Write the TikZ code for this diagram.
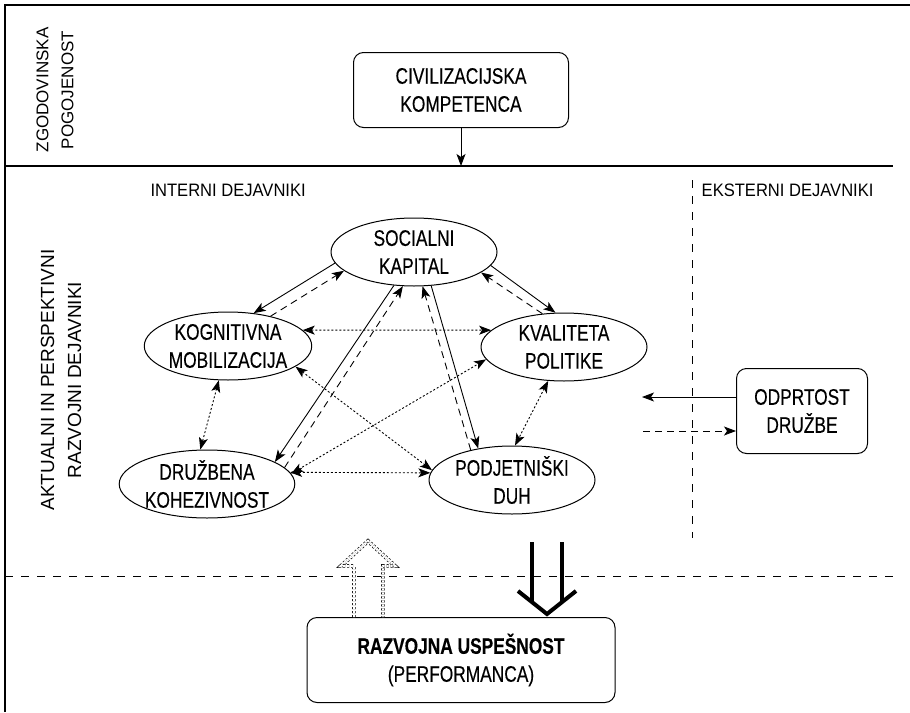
\documentclass[tikz,border=0pt]{standalone}
\usepackage{fontspec}
\setmainfont{Liberation Sans}
\newfontfamily\condfont[FakeStretch=0.77, FakeBold=0.3]{Liberation Sans}
\newfontfamily\midfont[FakeStretch=0.92]{Liberation Sans}
\usetikzlibrary{arrows.meta, shapes.geometric}

\begin{document}
\begin{tikzpicture}[x=1pt, y=-1pt,
    factor/.style={ellipse, draw, line width=1pt, minimum width=166pt,
                   minimum height=68pt, inner sep=0pt, align=center,
                   font=\condfont\fontsize{22.5}{28}\selectfont},
    panel/.style={draw, rounded corners=10pt, line width=1pt, align=center,
                  font=\condfont\fontsize{22.5}{28}\selectfont},
    dashline/.style={dash pattern=on 7pt off 5pt},
    dotline/.style={dash pattern=on 2pt off 2pt},
    sepline/.style={line width=1pt, dash pattern=on 8pt off 8pt}]
\useasboundingbox (0,0) rectangle (910,712);
\draw[line width=1.2pt] (5,712) -- (5,5) -- (910,5);
\draw[line width=1.2pt] (5,166) coordinate (sepl) -- (893,166) coordinate (sepr);

\node[rotate=90, align=center, font=\fontsize{17}{25}\selectfont] (zgo) at (55,90) {ZGODOVINSKA\\POGOJENOST};
\node[rotate=90, align=center, font=\fontsize{19}{27}\selectfont] (akt) at (61,380) {AKTUALNI IN PERSPEKTIVNI\\RAZVOJNI DEJAVNIKI};
\node[anchor=west, font=\midfont\fontsize{18}{22}\selectfont] (int) at (147,190) {INTERNI DEJAVNIKI};
\node[anchor=east, font=\midfont\fontsize{18}{22}\selectfont] (eks) at (877,190) {EKSTERNI DEJAVNIKI};

\node[panel, minimum width=215pt, minimum height=75pt] (civ) at (461,90) {CIVILIZACIJSKA\\KOMPETENCA};
\node[factor] (sk) at (414,252) {SOCIALNI\\KAPITAL};
\node[factor] (km) at (228,346) {KOGNITIVNA\\MOBILIZACIJA};
\node[factor] (kp) at (564,347) {KVALITETA\\POLITIKE};
\node[factor] (dk) at (207,484) {DRUŽBENA\\KOHEZIVNOST};
\node[factor] (pd) at (512,480) {PODJETNIŠKI\\DUH};
\node[panel, minimum width=131pt, minimum height=85pt] (odp) at (802,411) {ODPRTOST\\DRUŽBE};
\node[panel, minimum width=308pt, minimum height=85pt] (rus) at (461,660) {\textbf{RAZVOJNA USPEŠNOST}\\(PERFORMANCA)};

\coordinate (inl) at (642,397);
\coordinate (outl) at (643,431);

\begin{scope}[>={Stealth[length=12pt,width=9pt,inset=3pt]},
              every edge/.style={draw, line width=0.9pt}]
    \path [->] (civ) edge (civ |- sepl);
    \path [->] (sk.188) edge (km.52);
    \path [->,dashline] (km.35) edge (sk.195);
    \path [->] (sk.350) edge (kp.104);
    \path [->,dashline] (kp.123) edge (sk.343);
    \path [->] (sk.239) edge (dk.18);
    \path [->,dashline] (dk.12) edge (sk.252);
    \path [->] (sk.297) edge (pd.137);
    \path [->,dashline] (pd.144) edge (sk.284);
    \path [<->,dotline] (km.12) edge (kp.167);
    \path [<->,dotline] (km.255) edge (dk.101);
    \path [<->,dotline] (km.343) edge (pd.173);
    \path [<->,dotline] (dk.7) edge (kp.189);
    \path [<->,dotline] (dk.8) edge (pd.175);
    \path [<->,dotline] (kp.245) edge (pd.85);
    \path [->] ([yshift=14pt]odp.west) edge (inl);
    \path [->,dashline] (outl) edge ([yshift=-20pt]odp.west);
\end{scope}

\draw[line width=4pt] (532,542) -- (532,603) (562,542) -- (562,603);
\draw[line width=4pt, line join=miter] (518,591) -- (547,614) -- (576,591);
\draw[dotline, double, double distance=2.5pt, line width=0.7pt]
    (rus.north -| 354,0) -- (354,566) -- (341,566) -- (368,541) -- (395,566) -- (383,566) -- (rus.north -| 383,0);

\draw[sepline] (5,576) -- (893,576);
\draw[sepline] (692,180) -- (692,538);
\end{tikzpicture}
\end{document}
